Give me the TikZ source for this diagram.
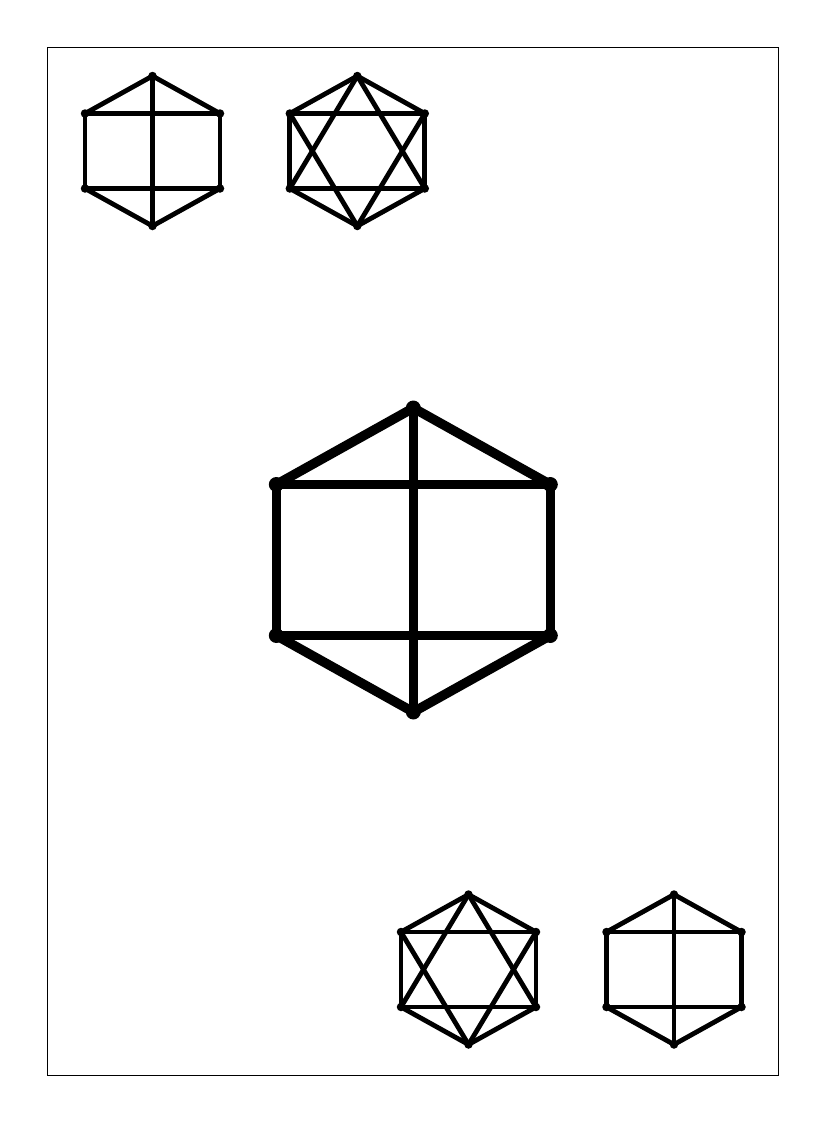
\documentclass[tikz,border=0pt]{standalone}
\begin{document}
\begin{tikzpicture}[x=1pt,y=-1pt,
  v/.style={circle,fill=black,draw=none,inner sep=0pt,minimum size=#1},
  v/.default=8pt,
  edge/.style={line width=#1,black,line cap=round},
  edge/.default=4.8pt]
\useasboundingbox (0,0) rectangle (826,1122);
\draw[line width=1pt] (47,47) rectangle (778,1075);
% hexagon vertices: name, cx, cy, half width, top offset, side offset, dot size
\newcommand\hexverts[7]{%
  \node[v=#7] (#1t)  at (#2,#3-#5) {};
  \node[v=#7] (#1ur) at (#2+#4,#3-#6) {};
  \node[v=#7] (#1lr) at (#2+#4,#3+#6) {};
  \node[v=#7] (#1b)  at (#2,#3+#5) {};
  \node[v=#7] (#1ll) at (#2-#4,#3+#6) {};
  \node[v=#7] (#1ul) at (#2-#4,#3-#6) {};}
\newcommand\hexperim[2]{%
  \draw[edge=#2] (#1t.center) -- (#1ur.center);
  \draw[edge=#2] (#1ur.center) -- (#1lr.center);
  \draw[edge=#2] (#1lr.center) -- (#1b.center);
  \draw[edge=#2] (#1b.center) -- (#1ll.center);
  \draw[edge=#2] (#1ll.center) -- (#1ul.center);
  \draw[edge=#2] (#1ul.center) -- (#1t.center);
  \draw[edge=#2] (#1ul.center) -- (#1ur.center);
  \draw[edge=#2] (#1ll.center) -- (#1lr.center);}
\newcommand\hexbox[2]{\hexperim{#1}{#2}\draw[edge=#2] (#1t.center) -- (#1b.center);}
\newcommand\hexstar[2]{\hexperim{#1}{#2}%
  \draw[edge=#2] (#1t.center) -- (#1ll.center);
  \draw[edge=#2] (#1t.center) -- (#1lr.center);
  \draw[edge=#2] (#1b.center) -- (#1ul.center);
  \draw[edge=#2] (#1b.center) -- (#1ur.center);}
% top row
\hexverts{A}{152.5}{151}{67.5}{75}{37.5}{8.5pt}
\hexbox{A}{4.8pt}
\hexverts{B}{357.3}{151}{67.5}{75}{37.5}{8.5pt}
\hexstar{B}{4.8pt}
% large
\hexverts{C}{413.3}{560}{137}{152}{75.5}{15pt}
\hexbox{C}{9.5pt}
% bottom row
\hexverts{D}{468.5}{969.5}{67.5}{75}{37.5}{8.5pt}
\hexstar{D}{4.8pt}
\hexverts{E}{674}{969.5}{67.5}{75}{37.5}{8.5pt}
\hexbox{E}{4.8pt}
\end{tikzpicture}
\end{document}
